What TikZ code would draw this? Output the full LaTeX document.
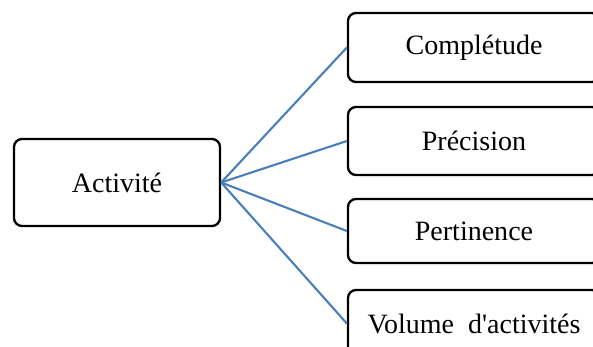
\documentclass[tikz,border=0pt]{standalone}
\usepackage{fontspec}
\setmainfont{Liberation Serif}
\definecolor{linkblue}{RGB}{74,126,187}
\begin{document}
\begin{tikzpicture}[x=0.5pt,y=-0.5pt,
  box/.style={draw=black,line width=1.15pt,rounded corners=4pt,fill=white,
    inner sep=0pt,font=\fontsize{14pt}{16pt}\selectfont},
  rbox/.style={box,minimum width=126pt},
  link/.style={draw=linkblue,line width=1.05pt}]
\useasboundingbox (0,0) rectangle (593,347);
\clip (0,0) rectangle (593,347);
\fill[white] (0,0) rectangle (593,347);
\node[box,minimum width=103pt,minimum height=43.5pt] (act) at (117,182.5) {Activité};
\node[rbox,minimum height=34.5pt] (b1) at (474,47.5) {Complétude};
\node[rbox,minimum height=34pt] (b2) at (474,141) {Précision};
\node[rbox,minimum height=32pt] (b3) at (474,231) {Pertinence};
\node[rbox,minimum height=33.5pt] (b4) at (474,323.5) {Volume\ \ d\textquotesingle activités};
\foreach \b in {b1,b2,b3,b4}
  \draw[link] (act.east) -- (\b.west);
\end{tikzpicture}
\end{document}
